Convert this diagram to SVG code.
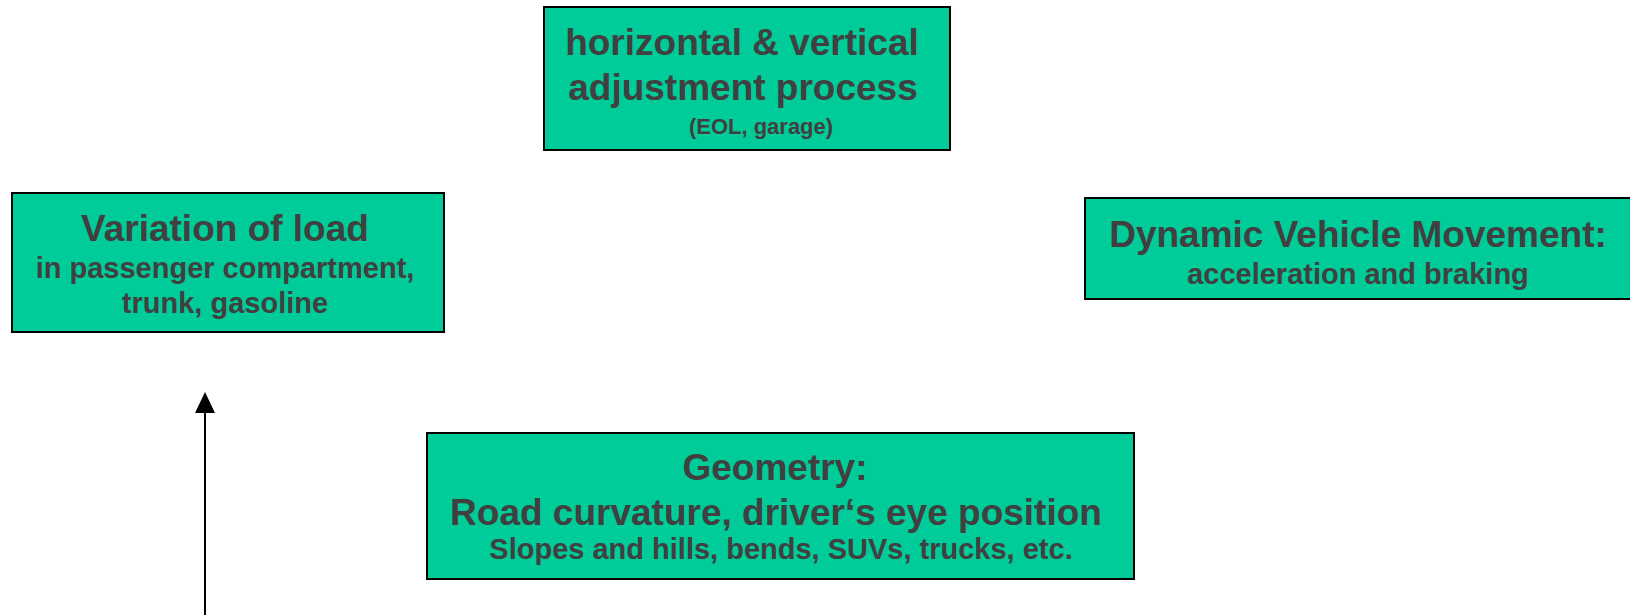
<svg xmlns="http://www.w3.org/2000/svg" width="1630" height="615" viewBox="0 0 1630 615">
<defs>
<style>
.box{fill:#00CC99;stroke:#000;stroke-width:2}
text{font-family:"Liberation Sans",Arial,sans-serif;font-weight:bold;fill:#404040;text-anchor:middle}
.big{font-size:37px}
.mid{font-size:29px}
.small{font-size:22px}
.conn{stroke:#000;stroke-width:2;fill:none}
</style>
</defs>
<rect width="1630" height="615" fill="#fff"/>
<g id="adjustment">
<rect class="box" x="544" y="7" width="406" height="143"/>
<text class="big" x="742" y="55">horizontal &amp; vertical</text>
<text class="big" x="743" y="100">adjustment process</text>
<text class="small" x="761" y="134">(EOL, garage)</text>
</g>
<g id="load">
<rect class="box" x="12" y="193" width="432" height="139"/>
<text class="big" x="225" y="241">Variation of load</text>
<text class="mid" x="225" y="278">in passenger compartment,</text>
<text class="mid" x="225" y="313">trunk, gasoline</text>
</g>
<g id="dynamic">
<rect class="box" x="1085" y="198" width="550" height="101"/>
<text class="big" x="1358" y="247">Dynamic Vehicle Movement:</text>
<text class="mid" x="1358" y="284">acceleration and braking</text>
</g>
<g id="geometry">
<rect class="box" x="427" y="433" width="707" height="146"/>
<text class="big" x="775" y="480">Geometry:</text>
<text class="big" x="776" y="525">Road curvature, driver‘s eye position</text>
<text class="mid" x="781" y="559">Slopes and hills, bends, SUVs, trucks, etc.</text>
</g>
<g id="connectors">
<line class="conn" x1="205" y1="615" x2="205" y2="412"/>
<path d="M195,413 L205,392 L215,413 Z" fill="#000"/>
</g>
</svg>
